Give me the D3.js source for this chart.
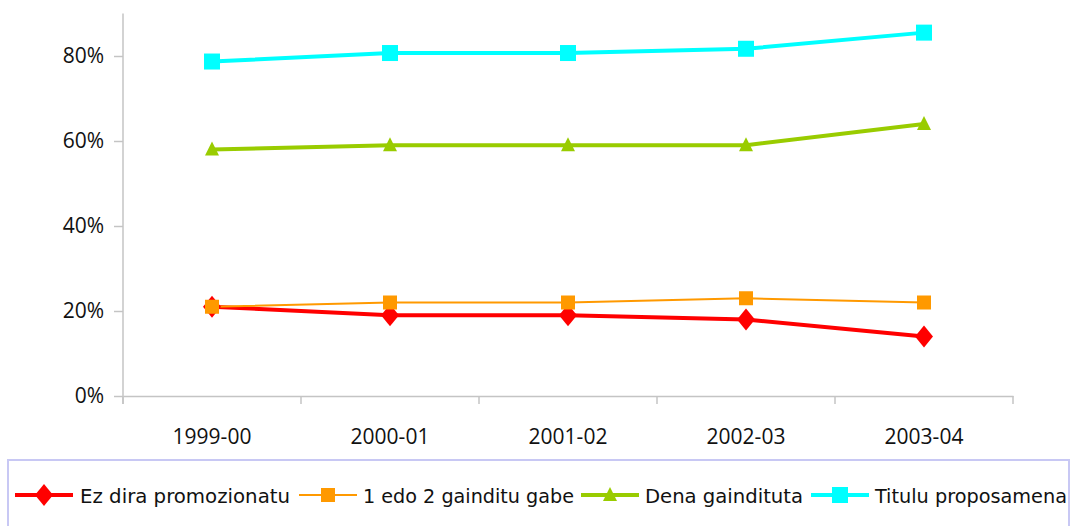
<!DOCTYPE html>
<html>
<head>
<meta charset="utf-8">
<script src="https://cdn.jsdelivr.net/npm/d3@7"></script>
<style>
  html, body { margin: 0; padding: 0; background: #fff; }
  svg { display: block; }
</style>
</head>
<body>
<script>
// Data
const years = ["1999-00", "2000-01", "2001-02", "2002-03", "2003-04"];
const promozionatu = [0.21, 0.19, 0.19, 0.18, 0.14];
const gabe12 = [0.21, 0.22, 0.22, 0.23, 0.22];
const gaindituta = [0.58, 0.59, 0.59, 0.59, 0.64];
const proposamena = [0.787, 0.807, 0.807, 0.817, 0.855];
const yTicks = [0, 0.2, 0.4, 0.6, 0.8];

const seriesNames = ["Ez dira promozionatu", "1 edo 2 gainditu gabe", "Dena gaindituta", "Titulu proposamena"];

const width = 1071, height = 526;
const margin = { top: 13.5, right: 58, bottom: 130, left: 123 };

const svg = d3.select("body").append("svg")
    .attr("width", width)
    .attr("height", height)
    .style("font-family", "'Open Sans', sans-serif");

const x = d3.scaleBand()
    .domain(years)
    .range([margin.left, width - margin.right]);

const y = d3.scaleLinear()
    .domain([0, 0.9])
    .range([height - margin.bottom, margin.top]);

const axisColor = "#c4c4c4";
const y0 = y(0);

// y axis
const yAxis = svg.append("g")
    .attr("transform", `translate(${margin.left},0)`)
    .call(d3.axisLeft(y).tickValues(yTicks).tickFormat(d3.format(".0%")).tickSize(9).tickSizeOuter(0).tickPadding(10));
yAxis.select(".domain").remove();
yAxis.selectAll("line").attr("stroke", axisColor).attr("stroke-width", 1.5);
yAxis.selectAll("text").style("font-size", "21px").style("font-family", "'Open Sans', sans-serif").attr("fill", "#111");

svg.append("line")
    .attr("x1", margin.left).attr("x2", margin.left)
    .attr("y1", y.range()[1]).attr("y2", y0 + 8)
    .attr("stroke", axisColor).attr("stroke-width", 1.5);

// x axis
const xAxis = svg.append("g")
    .attr("transform", `translate(0,${y0})`)
    .call(d3.axisBottom(x).tickSize(0).tickPadding(33));
xAxis.select(".domain").attr("stroke", axisColor).attr("stroke-width", 1.5);
xAxis.selectAll("text").style("font-size", "21px").style("font-family", "'Open Sans', sans-serif").attr("fill", "#111");

const bounds = years.map(d => x(d)).concat([x.range()[1]]);
svg.append("g").selectAll("line")
    .data(bounds)
    .join("line")
    .attr("x1", d => d).attr("x2", d => d)
    .attr("y1", y0).attr("y2", y0 + 8)
    .attr("stroke", axisColor).attr("stroke-width", 1.5);

// series
const series = [
    { name: seriesNames[0], values: promozionatu, color: "#ff0000", width: 4, shape: "diamond" },
    { name: seriesNames[1], values: gabe12, color: "#ff9900", width: 2, shape: "square" },
    { name: seriesNames[2], values: gaindituta, color: "#99cc00", width: 4, shape: "triangle" },
    { name: seriesNames[3], values: proposamena, color: "#00ffff", width: 4, shape: "bigsquare" }
];

function marker(g, shape, color) {
    if (shape === "diamond") {
        g.append("path").attr("d", "M0,-11L9,0L0,11L-9,0Z").attr("fill", color);
    } else if (shape === "square") {
        g.append("rect").attr("x", -7).attr("y", -7).attr("width", 14).attr("height", 14).attr("fill", color);
    } else if (shape === "triangle") {
        g.append("path").attr("d", "M0,-8L7,6L-7,6Z").attr("fill", color);
    } else {
        g.append("rect").attr("x", -8).attr("y", -8).attr("width", 16).attr("height", 16).attr("fill", color);
    }
}

const line = d3.line()
    .x((d, i) => x(years[i]) + x.bandwidth() / 2)
    .y(d => y(d));

series.forEach(s => {
    svg.append("path")
        .attr("d", line(s.values))
        .attr("fill", "none")
        .attr("stroke", s.color)
        .attr("stroke-width", s.width)
        .attr("stroke-linejoin", "round");
});

series.forEach(s => {
    s.values.forEach((v, i) => {
        const g = svg.append("g")
            .attr("transform", `translate(${x(years[i]) + x.bandwidth() / 2},${y(v)})`);
        marker(g, s.shape, s.color);
    });
});

// legend
svg.append("rect")
    .attr("x", 8).attr("y", 460)
    .attr("width", 1061).attr("height", 80)
    .attr("fill", "#fff")
    .attr("stroke", "#c8c8f4")
    .attr("stroke-width", 2);

const legendItems = [
    { lineX: 15, textX: 80, textW: 210 },
    { lineX: 299, textX: 363, textW: 211 },
    { lineX: 581, textX: 645, textW: 158 },
    { lineX: 811, textX: 875, textW: 192 }
];

const legendY = 495;
series.forEach((s, i) => {
    const it = legendItems[i];
    const g = svg.append("g");
    g.append("line")
        .attr("x1", it.lineX).attr("x2", it.lineX + 58)
        .attr("y1", legendY).attr("y2", legendY)
        .attr("stroke", s.color)
        .attr("stroke-width", s.width);
    const m = g.append("g").attr("transform", `translate(${it.lineX + 29},${legendY})`);
    marker(m, s.shape, s.color);
    g.append("text")
        .attr("x", it.textX)
        .attr("y", legendY + 8)
        .attr("textLength", it.textW)
        .attr("lengthAdjust", "spacingAndGlyphs")
        .style("font-family", "'DejaVu Sans Condensed', 'DejaVu Sans', sans-serif")
        .style("font-size", "20px")
        .attr("fill", "#111")
        .text(s.name);
});
</script>
</body>
</html>
